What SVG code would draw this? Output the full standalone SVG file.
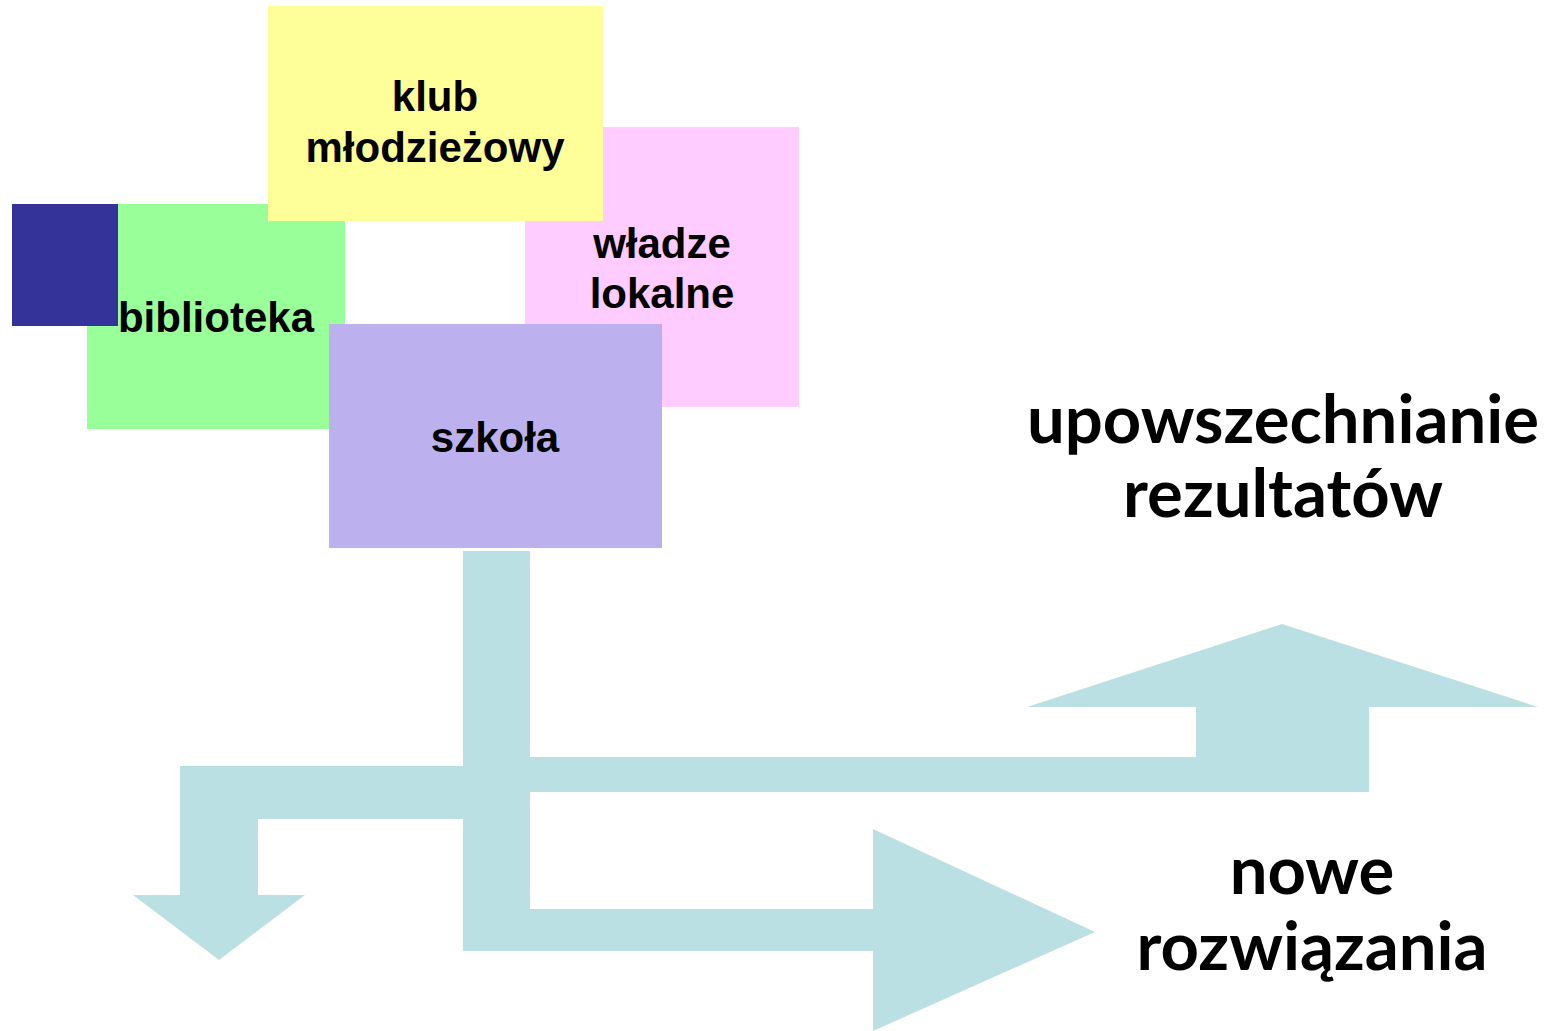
<svg xmlns="http://www.w3.org/2000/svg" width="1547" height="1031" viewBox="0 0 1547 1031">
<style>
.lbl{font-family:"Liberation Sans",Arial,sans-serif;font-weight:bold;font-size:42px;fill:#000;text-anchor:middle}
.big{font-family:Lato,"Open Sans",sans-serif;font-weight:bold;font-size:67px;fill:#000;text-anchor:middle}
.arr{fill:#BBE0E3}
</style>
<rect width="1547" height="1031" fill="#fff"/>
<g id="connectors">
<rect class="arr" x="463" y="551" width="67" height="400"/>
<rect class="arr" x="530" y="909" width="344" height="42"/>
<polygon class="arr" points="873,829 1095,932 873,1031"/>
<rect class="arr" x="180" y="766" width="284" height="53"/>
<rect class="arr" x="180" y="818" width="78" height="78"/>
<polygon class="arr" points="133,895 305,895 219,960"/>
<rect class="arr" x="529" y="757" width="840" height="35"/>
<rect class="arr" x="1196" y="706" width="173" height="52"/>
<polygon class="arr" points="1027,707 1282,624 1538,707"/>
</g>
<g id="biblioteka">
<rect x="87" y="204" width="258" height="225" fill="#99FF99"/>
</g>
<g id="wladze">
<rect x="525" y="127" width="274" height="280" fill="#FFCCFF"/>
<text class="lbl" x="662" y="258">władze</text>
<text class="lbl" x="662" y="308">lokalne</text>
</g>
<g id="klub">
<rect x="268" y="6" width="335" height="215" fill="#FFFF99"/>
<text class="lbl" x="435" y="111">klub</text>
<text class="lbl" x="435" y="162">młodzieżowy</text>
</g>
<g id="marker">
<rect x="12" y="204" width="106" height="122" fill="#333399"/>
</g>
<g id="biblioteka-label">
<text class="lbl" x="216" y="332">biblioteka</text>
</g>
<g id="szkola">
<rect x="329" y="324" width="333" height="224" fill="#BCB1EE"/>
<text class="lbl" x="495" y="452">szkoła</text>
</g>
<g id="upowszechnianie">
<text class="big" x="1283" y="443">upowszechnianie</text>
<text class="big" x="1283" y="517">rezultatów</text>
</g>
<g id="nowe">
<text class="big" x="1312" y="894">nowe</text>
<text class="big" x="1312" y="970">rozwiązania</text>
</g>
</svg>
